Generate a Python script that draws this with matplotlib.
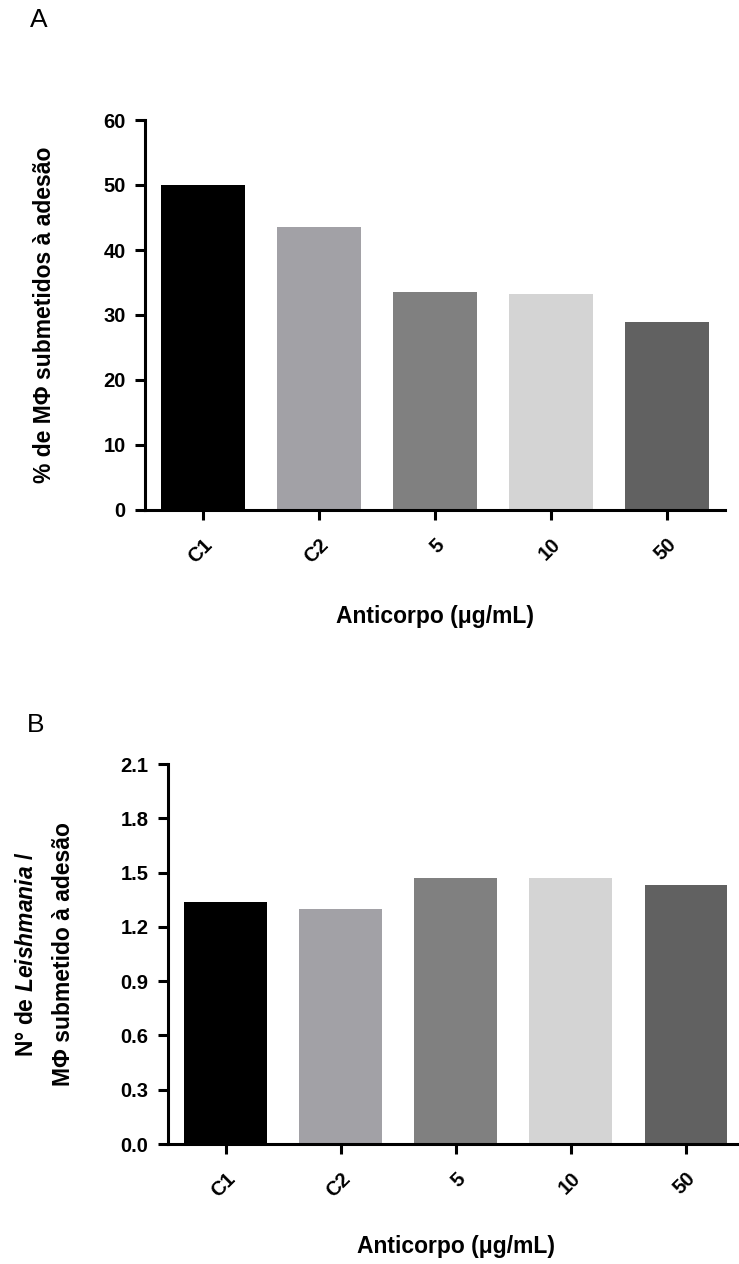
import numpy as np
import matplotlib.pyplot as plt
from matplotlib.ticker import FormatStrFormatter, MultipleLocator

plt.rcParams['font.family'] = ['Liberation Sans', 'DejaVu Sans']
plt.rcParams['mathtext.fontset'] = 'custom'
plt.rcParams['mathtext.rm'] = 'Liberation Sans:bold'
plt.rcParams['mathtext.it'] = 'Liberation Sans:italic:bold'

# data
grupos = ["C1", "C2", "5", "10", "50"]
pct_adesao = [50.0, 43.5, 33.5, 33.2, 28.9]          # painel A
leish_por_mf = [1.34, 1.30, 1.47, 1.47, 1.43]         # painel B
cores = ["#000000", "#A2A1A6", "#808080", "#D4D4D4", "#616161"]

W, H = 739, 1264
fig = plt.figure(figsize=(W / 100, H / 100), dpi=100)


def eixo_px(left, right, top, bottom):
    return fig.add_axes([left / W, 1 - bottom / H, (right - left) / W, (bottom - top) / H])


def desenha(ax, valores, ymax, passo, fmt, ylabel, ylab_x, xlab_y, ylab_ls=1.2):
    x = np.arange(len(grupos))
    ax.bar(x, valores, width=0.72, color=cores)
    ax.set_xlim(-0.5, 4.5)
    ax.set_ylim(0, ymax)
    ax.yaxis.set_major_locator(MultipleLocator(passo))
    ax.yaxis.set_major_formatter(FormatStrFormatter(fmt))
    ax.set_xticks(x)
    ax.set_xticklabels(grupos, rotation=45, ha='right', va='top',
                       rotation_mode='anchor')
    for s in ['top', 'right']:
        ax.spines[s].set_visible(False)
    for s in ['left', 'bottom']:
        ax.spines[s].set_linewidth(2.2)
    ax.tick_params(width=2.2, length=7, labelsize=14.5, pad=7)
    ax.tick_params(axis='x', pad=11)
    for lab in ax.get_xticklabels() + ax.get_yticklabels():
        lab.set_fontweight('bold')

    ax.set_xlabel("Anticorpo (μg/mL)", fontsize=16.5, fontweight='bold')
    ax.xaxis.set_label_coords(0.5, xlab_y)
    ax.xaxis.label.set_va('center')

    ax.set_ylabel(ylabel, fontsize=16.5, fontweight='bold', linespacing=ylab_ls)
    ax.yaxis.set_label_coords(ylab_x, 0.5)
    ax.yaxis.label.set_va('center')


axA = eixo_px(145, 725, 120, 510)
desenha(axA, pct_adesao, 60, 10, '%d', "% de MΦ submetidos à adesão",
        (45 - 145) / 580, (510 - 617) / 390)

axB = eixo_px(168, 743.5, 764, 1144)
desenha(axB, leish_por_mf, 2.1, 0.3, '%.1f',
        "N° de $\\mathit{Leishmania}$ /\nMΦ submetido à adesão",
        (45 - 168) / 575.5, (1144 - 1246) / 380, ylab_ls=1.75)

fig.text(30 / W, 1 - 8 / H, "A", fontsize=19, va='top', ha='left')
fig.text(27 / W, 1 - 713 / H, "B", fontsize=19, va='top', ha='left')

fig.savefig("out.png", dpi=100)
